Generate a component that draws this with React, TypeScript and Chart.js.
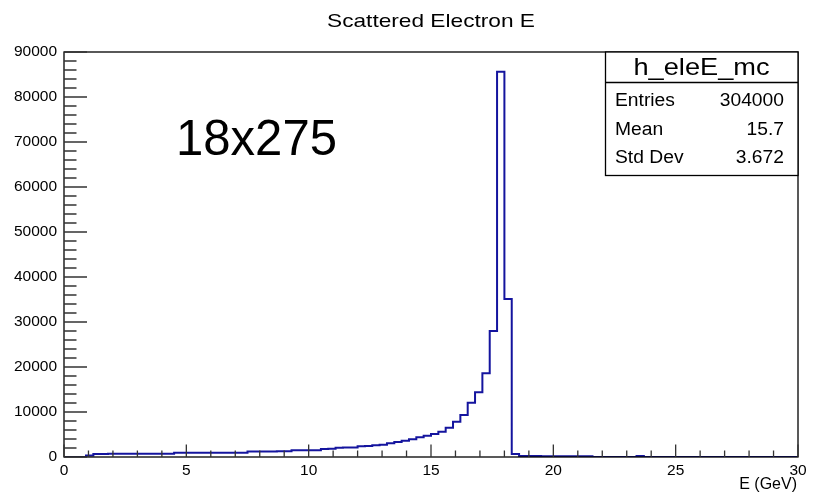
import React, { useEffect, useRef } from "react";
import { Chart, registerables } from "chart.js";

Chart.register(...registerables);

// ---- data (100 bins, 0..30 GeV) ----
const X_MIN = 0;
const X_MAX = 30;
const BIN_WIDTH = 0.3;
const counts: number[] = [
  0, 0, 0, 350, 690, 690, 700, 700, 700, 700,
  700, 710, 710, 710, 720, 940, 950, 950, 950, 950,
  960, 960, 960, 970, 970, 1230, 1240, 1250, 1250, 1260,
  1270, 1480, 1500, 1510, 1520, 1780, 1820, 2080, 2100, 2130,
  2380, 2420, 2600, 2750, 3050, 3330, 3630, 3930, 4370, 4740,
  5110, 5630, 6520, 7850, 9330, 12070, 14370, 18600, 28000, 85600,
  35100, 670, 210, 200, 200, 190, 190, 180, 180, 170,
  170, 160, 0, 0, 0, 0, 0, 0, 200, 0,
  0, 0, 0, 0, 0, 0, 0, 0, 0, 0,
  0, 0, 0, 0, 0, 0, 0, 0, 0, 0,
];
const xMajorStep = 5;
const xMinorStep = 1;
const Y_MAX = 90000;
const yMajorStep = 10000;
const yMinorStep = 2000;

const titleText = "Scattered Electron E";
const histName = "h_eleE_mc";
const statLabels = ["Entries", "Mean", "Std Dev"];
const statValues = ["304000", "15.7", "3.672"];
const beamLabel = "18x275";
const xAxisTitle = "E (GeV)";

const FONT = '"Liberation Sans", Arial, Helvetica, sans-serif';

function drawText(
  ctx: CanvasRenderingContext2D,
  text: string,
  x: number,
  y: number,
  size: number,
  align: CanvasTextAlign,
  targetWidth?: number,
  sx: number = 1
) {
  ctx.font = `${size}px ${FONT}`;
  ctx.textAlign = align;
  ctx.textBaseline = "alphabetic";
  ctx.fillStyle = "#000";
  let s = sx;
  if (targetWidth) {
    const w = ctx.measureText(text).width;
    s = targetWidth / w;
  }
  ctx.save();
  ctx.translate(x, y);
  ctx.scale(s, 1);
  ctx.fillText(text, 0, 0);
  ctx.restore();
}

const rootDecor = {
  id: "rootDecor",
  afterDatasetsDraw(chart: any) {
    const { ctx, chartArea: a, scales } = chart;
    const xs = scales.x;
    const ys = scales.y;
    ctx.save();
    ctx.strokeStyle = "#000";
    ctx.lineWidth = 1.3;
    ctx.strokeRect(a.left, a.top, a.right - a.left, a.bottom - a.top);

    ctx.lineWidth = 1.3;
    ctx.strokeStyle = "#333";
    ctx.beginPath();
    for (let v = X_MIN; v <= X_MAX + 1e-9; v += xMinorStep) {
      const px = xs.getPixelForValue(v);
      const len = Math.abs(v % xMajorStep) < 1e-9 ? 12.5 : 6.5;
      ctx.moveTo(px, a.bottom);
      ctx.lineTo(px, a.bottom - len);
    }
    for (let v = 0; v <= Y_MAX + 1e-9; v += yMinorStep) {
      const py = ys.getPixelForValue(v);
      const len = v % yMajorStep === 0 ? 23 : 12.5;
      ctx.moveTo(a.left, py);
      ctx.lineTo(a.left + len, py);
    }
    ctx.stroke();

    // stats box
    const bx0 = 605.5, bx1 = a.right, by0 = a.top, by1 = 175.5, sep = 82.5;
    ctx.fillStyle = "#fff";
    ctx.fillRect(bx0, by0, bx1 - bx0, by1 - by0);
    ctx.strokeStyle = "#000";
    ctx.lineWidth = 1.3;
    ctx.strokeRect(bx0, by0, bx1 - bx0, by1 - by0);
    ctx.beginPath();
    ctx.moveTo(bx0, sep);
    ctx.lineTo(bx1, sep);
    ctx.stroke();
    ctx.restore();
  },
  afterDraw(chart: any) {
    const { ctx } = chart;
    ctx.save();
    drawText(ctx, titleText, 431, 27, 19, "center", 208);
    drawText(ctx, histName, 701.5, 75, 24, "center", 136);
    const baselines = [105.5, 134.5, 163];
    statLabels.forEach((l, i) => {
      drawText(ctx, l, 615, baselines[i], 18, "left", undefined, 1.07);
      drawText(ctx, statValues[i], 784, baselines[i], 18, "right", undefined, 1.07);
    });
    drawText(ctx, beamLabel, 176, 155, 50, "left", 161);
    drawText(ctx, xAxisTitle, 797, 489, 16, "right");
    ctx.restore();
  },
};

export default function App() {
  const ref = useRef<HTMLCanvasElement | null>(null);
  useEffect(() => {
    if (!ref.current) return;
    const points = counts.map((c, i) => ({ x: X_MIN + i * BIN_WIDTH, y: c }));
    points.push({ x: X_MAX, y: counts[counts.length - 1] });
    const tickFont = { family: FONT, size: 15.5 };
    const chart = new Chart(ref.current, {
      type: "line",
      data: {
        datasets: [
          {
            data: points,
            borderColor: "#14149e",
            borderWidth: 2,
            stepped: "before",
            fill: false,
            pointRadius: 0,
          } as any,
        ],
      },
      options: {
        animation: false,
        responsive: false,
        events: [],
        layout: { padding: { left: 0, right: 23, top: 52, bottom: 0 } },
        plugins: {
          legend: { display: false },
          title: { display: false },
          tooltip: { enabled: false },
        },
        scales: {
          x: {
            type: "linear",
            min: X_MIN,
            max: X_MAX,
            grid: { display: false, drawTicks: false },
            border: { display: false },
            ticks: {
              stepSize: xMajorStep,
              padding: 4,
              color: "#000",
              font: tickFont,
              maxRotation: 0,
              autoSkip: false,
              callback: (v: any) => String(v),
            },
            afterFit: (s: any) => {
              s.height = 36;
            },
          },
          y: {
            type: "linear",
            min: 0,
            max: Y_MAX,
            grid: { display: false, drawTicks: false },
            border: { display: false },
            ticks: {
              stepSize: yMajorStep,
              padding: 7,
              color: "#000",
              font: tickFont,
              callback: (v: any) => String(v),
            },
            afterFit: (s: any) => {
              s.width = 64;
            },
          },
        },
      },
      plugins: [rootDecor],
    });
    return () => chart.destroy();
  }, []);
  return (
    <div style={{ position: "absolute", left: 0, top: 0, width: 821, height: 493, background: "#fff" }}>
      <canvas ref={ref} width={821} height={493} style={{ display: "block" }} />
    </div>
  );
}
